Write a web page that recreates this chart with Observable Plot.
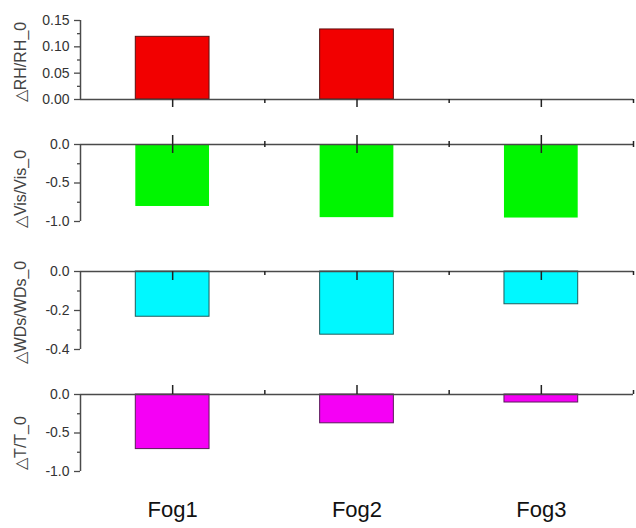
<!DOCTYPE html>
<html><head><meta charset="utf-8">
<script src="https://cdn.jsdelivr.net/npm/d3@7"></script>
<script src="https://cdn.jsdelivr.net/npm/@observablehq/plot@0.6"></script>
<style>
body{margin:0;background:#fff;}
#chart svg{display:block;}
</style>
</head><body><div id="chart"></div>
<script>
const categories = ["Fog1", "Fog2", "Fog3"];
const rhValues = [0.119, 0.133, null];
const visValues = [-0.805, -0.95, -0.955];
const wdsValues = [-0.232, -0.324, -0.168];
const tValues = [-0.709, -0.374, -0.104];
const rhTicks = [0, 0.05, 0.10, 0.15];
const rhMinor = [0.025, 0.075, 0.125];
const visTicks = [0, -0.5, -1.0];
const visMinor = [-0.25, -0.75];
const wdsTicks = [0, -0.2, -0.4];
const wdsMinor = [-0.1, -0.3];
const tTicks = [0, -0.5, -1.0];
const tMinor = [-0.25, -0.75];
const majorX = [1, 2, 3];
const minorX = [1.5, 2.5, 3.5];

const AX = "#4a4a4a";
const font = "'Liberation Sans', Arial, sans-serif";

function panel(cfg) {
  const {values, label, fill, stroke, domain, ticks, minor, digits, height, mt, mb,
         xMajor, xMinor, showX, labelShift} = cfg;
  const inner = height - mt - mb;
  const data = categories.map((c, i) => ({c, x: i + 1, v: values[i]})).filter(d => d.v != null);
  const marks = [
    Plot.rectY(data, {x1: d => d.x - 0.2, x2: d => d.x + 0.2, y: "v", fill, stroke: stroke || "none", strokeWidth: 1}),
    Plot.ruleY([0], {stroke: AX, strokeWidth: 1.5}),
    Plot.ruleX([0.5], {y1: domain[0], y2: domain[1], stroke: AX, strokeWidth: 1.5}),
    Plot.axisY({ticks, tickSize: 6, tickPadding: 5, tickFormat: d => d.toFixed(digits), label: null, fontSize: 14, fill: "#333", stroke: AX, strokeWidth: 1.3}),
    Plot.axisY({ticks: minor, tickSize: 3, tickFormat: () => "", label: null, stroke: AX, strokeWidth: 1.3}),
    Plot.tickX(majorX, {x: d => d, insetTop: xMajor[0](inner), insetBottom: xMajor[1](inner), stroke: "#222", strokeWidth: 1.5}),
    Plot.tickX(minorX, {x: d => d, insetTop: xMinor[0](inner), insetBottom: xMinor[1](inner), stroke: "#222", strokeWidth: 1.5}),
    Plot.text([label], {text: d => d, frameAnchor: "left", textAnchor: "middle", rotate: -90, dx: -60, dy: labelShift || 0, fontSize: 16, fill: "#444"})
  ];
  if (showX) {
    marks.push(Plot.axisX({ticks: majorX, anchor: "bottom", tickSize: 0, tickPadding: 30, tickFormat: d => categories[d - 1], fontSize: 22, fill: "#111", label: null}));
  }
  return Plot.plot({
    width: 636, height, marginTop: mt, marginBottom: mb, marginLeft: 80, marginRight: 3,
    style: {fontFamily: font, background: "#fff", overflow: "visible"},
    x: {type: "linear", domain: [0.5, 3.5], axis: null},
    y: {domain, axis: null},
    marks
  });
}

const down = (len) => [h => h, h => -len];
const up = (len) => [h => -len, h => h];
const cross = (len) => [h => -len, h => h - len];
const inDown = (len) => [h => 0, h => h - len];

const chart = document.getElementById("chart");
chart.append(panel({values: rhValues, label: "△RH/RH_0", fill: "#f20000", stroke: "#5a1010",
  domain: [0, 0.15], ticks: rhTicks, minor: rhMinor, digits: 2, height: 122, mt: 20, mb: 23,
  xMajor: down(8), xMinor: down(4), labelShift: 2}));
chart.append(panel({values: visValues, label: "△Vis/Vis_0", fill: "#00f500", stroke: null,
  domain: [-1.0, 0], ticks: visTicks, minor: visMinor, digits: 1, height: 124, mt: 22, mb: 25,
  xMajor: cross(9), xMinor: cross(3), labelShift: 6}));
chart.append(panel({values: wdsValues, label: "△WDs/WDs_0", fill: "#00f8ff", stroke: "#1f5c5c",
  domain: [-0.4, 0], ticks: wdsTicks, minor: wdsMinor, digits: 1, height: 126, mt: 25, mb: 23,
  xMajor: inDown(9), xMinor: inDown(4), labelShift: 2}));
chart.append(panel({values: tValues, label: "△T/T_0", fill: "#f500f5", stroke: "#5a1a5a",
  domain: [-1.0, 0], ticks: tTicks, minor: tMinor, digits: 1, height: 156, mt: 22, mb: 57,
  xMajor: up(9), xMinor: up(4), labelShift: 10, showX: true}));
</script>
</body></html>
